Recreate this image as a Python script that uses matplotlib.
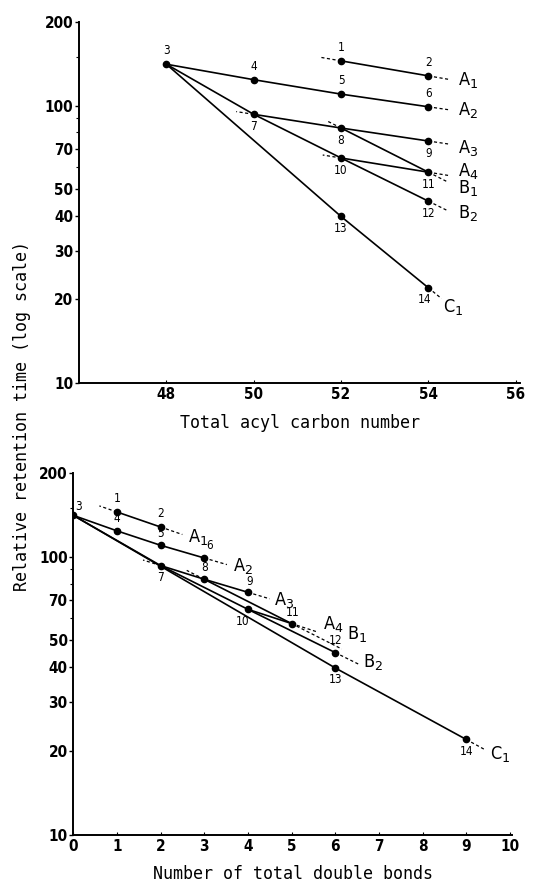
import numpy as np
import matplotlib
matplotlib.use("Agg")
import matplotlib.pyplot as plt
from matplotlib.ticker import FixedLocator, NullFormatter

# peak numbers with carbon number, double bond count, relative retention time
peak_ids = [1, 2, 3, 4, 5, 6, 7, 8, 9, 10, 11, 12, 13, 14]
carbon_number = [52, 54, 48, 50, 52, 54, 50, 52, 54, 52, 54, 54, 52, 54]
double_bonds = [1, 2, 0, 1, 2, 3, 2, 3, 4, 4, 5, 6, 6, 9]
retention = [145, 128, 141, 124, 110, 99, 93, 83, 74.5, 64.7, 57.5, 45.2, 39.8, 22.0]

# series as lists of peak numbers
series_names = ["A1", "A2", "A3", "A4", "B1", "B2", "C1"]
series_peaks = [[1, 2], [3, 4, 5, 6], [7, 8, 9], [10, 11], [8, 11], [3, 7, 10, 12], [3, 13, 14]]

# dashed stub ends (x) before first / after last point, None = no stub
top_stub_left = [51.55, None, 49.6, 51.58, 51.7, None, None]
top_stub_right = [54.45, 54.45, 54.45, 54.45, 54.45, 54.45, 54.3]
bot_stub_left = [0.6, None, 1.6, None, 2.6, None, None]
bot_stub_right = [2.5, 3.52, 4.5, 5.6, 6.15, 6.55, 9.45]

# curve label positions
top_label_x = [54.67, 54.67, 54.67, 54.67, 54.67, 54.67, 54.33]
top_label_y = [124, 96, 70.3, 58, 50.5, 40.8, 18.8]
bot_label_x = [2.62, 3.66, 4.6, 5.72, 6.27, 6.64, 9.54]
bot_label_y = [118, 93, 69.6, 57.4, 52.8, 41.7, 19.5]

y_ticks = [10, 20, 30, 40, 50, 70, 100, 200]
y_minor = [60, 80, 90, 150]

# point-number label offsets (points)
top_offsets = {1: (0, 5), 2: (0, 5), 3: (0, 5), 4: (0, 5), 5: (0, 5), 6: (0, 5),
               7: (0, -4), 8: (0, -4), 9: (0, -4), 10: (0, -4), 11: (0, -4),
               12: (0, -4), 13: (0, -4), 14: (-3, -4)}
bot_offsets = {1: (0, 5), 2: (0, 5), 3: (4, 2), 4: (0, 4), 5: (0, 4), 6: (4, 4),
               7: (0, -4), 8: (0, 4), 9: (1, 3), 10: (-4, -4), 11: (1, 3),
               12: (0, 4), 13: (0, -4), 14: (0, -4)}

NARROW = ["DejaVu Sans"]
MONO = ["DejaVu Sans Mono"]

fig = plt.figure(figsize=(5.34, 8.86), dpi=100)
ax_top = fig.add_axes([0.148, 0.568, 0.826, 0.407])
ax_bot = fig.add_axes([0.137, 0.058, 0.822, 0.408])


def stub(xs, ys, x_end, side):
    # extrapolate a straight line in log space from the end segment
    if side == "left":
        (x0, y0), (x1, y1) = (xs[0], ys[0]), (xs[1], ys[1])
    else:
        (x0, y0), (x1, y1) = (xs[-1], ys[-1]), (xs[-2], ys[-2])
    slope = (np.log10(y1) - np.log10(y0)) / (x1 - x0)
    y_end = 10 ** (np.log10(y0) + slope * (x_end - x0))
    return [x0, x_end], [y0, y_end]


def style_ticks(labels):
    for lab in labels:
        lab.set_family(NARROW)
        lab.set_fontsize(11)
        lab.set_fontweight("bold")
        lab.set_fontstretch("condensed")


def draw(ax, xvals, stubs_l, stubs_r, lab_x, lab_y, offsets):
    lookup = dict(zip(peak_ids, zip(xvals, retention)))
    for name, peaks, sl, sr, lx, ly in zip(series_names, series_peaks, stubs_l, stubs_r, lab_x, lab_y):
        xs = [lookup[p][0] for p in peaks]
        ys = [lookup[p][1] for p in peaks]
        ax.plot(xs, ys, color="black", lw=1.2, solid_capstyle="round")
        if sl is not None:
            sx, sy = stub(xs, ys, sl, "left")
            ax.plot(sx, sy, color="black", lw=0.9, ls=(0, (2.5, 2)))
        if sr is not None:
            sx, sy = stub(xs, ys, sr, "right")
            ax.plot(sx, sy, color="black", lw=0.9, ls=(0, (2.5, 2)))
        ax.text(lx, ly, name[0] + "$_{" + name[1] + "}$", fontsize=13, ha="left", va="center",
                family=NARROW, fontstretch="condensed")
    ax.plot(xvals, retention, "o", color="black", ms=4.5, zorder=5)
    for p, x, y in zip(peak_ids, xvals, retention):
        dx, dy = offsets[p]
        ax.annotate(str(p), (x, y), xytext=(dx, dy), textcoords="offset points",
                    ha="center", va="bottom" if dy > 0 else "top", fontsize=8.5,
                    family=NARROW, fontstretch="condensed")

    ax.set_yscale("log")
    ax.set_ylim(10, 200)
    ax.yaxis.set_major_locator(FixedLocator(y_ticks))
    ax.yaxis.set_minor_locator(FixedLocator(y_minor))
    ax.yaxis.set_minor_formatter(NullFormatter())
    ax.set_yticklabels([str(t) for t in y_ticks])
    for side in ("top", "right"):
        ax.spines[side].set_visible(False)
    for side in ("left", "bottom"):
        ax.spines[side].set_linewidth(1.4)
    ax.tick_params(axis="y", which="major", direction="out", length=3, width=1, pad=1)
    ax.tick_params(axis="y", which="minor", direction="out", length=2, width=0.8)
    ax.tick_params(axis="x", direction="in", length=2, width=0.8, pad=3)
    style_ticks(ax.get_yticklabels())


draw(ax_top, carbon_number, top_stub_left, top_stub_right, top_label_x, top_label_y, top_offsets)
ax_top.set_xlim(46, 56.1)
ax_top.set_xticks([48, 50, 52, 54, 56])
style_ticks(ax_top.get_xticklabels())
ax_top.set_xlabel("Total acyl carbon number", family=MONO, fontsize=12, labelpad=9)

draw(ax_bot, double_bonds, bot_stub_left, bot_stub_right, bot_label_x, bot_label_y, bot_offsets)
ax_bot.set_xlim(0, 10.05)
ax_bot.set_xticks(range(0, 11))
style_ticks(ax_bot.get_xticklabels())
ax_bot.set_xlabel("Number of total double bonds", family=MONO, fontsize=12, labelpad=8)

fig.text(0.042, 0.53, "Relative retention time (log scale)", rotation=90, ha="center",
         va="center", family=MONO, fontsize=12)

fig.savefig("out.png", dpi=100)
